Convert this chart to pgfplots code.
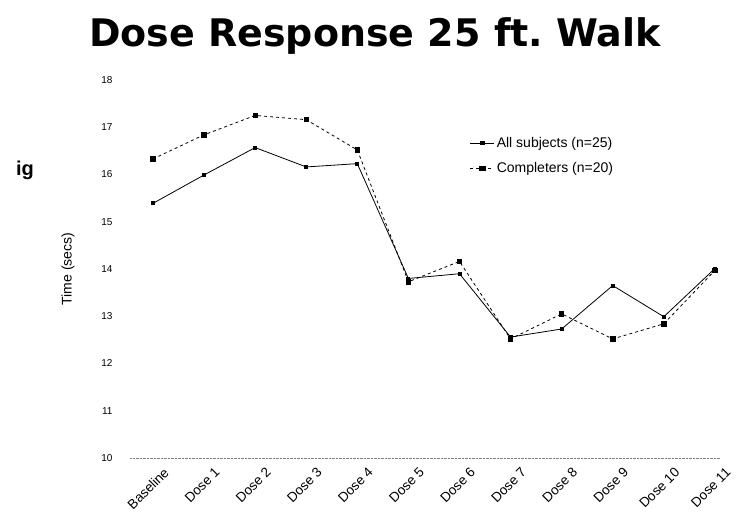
\documentclass[border=0pt]{standalone}
\usepackage{fontspec}
\setmainfont{Liberation Sans}
\newfontfamily\titlefont{DejaVu Sans}
\usepackage{pgfplots}
\pgfplotsset{compat=1.18}
\begin{document}
\begin{tikzpicture}
\useasboundingbox (0pt,0pt) rectangle (740pt,531pt);
\node[font=\titlefont\fontsize{38}{42}\selectfont\bfseries] at (375pt,495pt) {Dose Response 25 ft.\ Walk};
\node[font=\fontsize{20}{22}\selectfont\bfseries] at (25pt,361pt) {ig};
\begin{axis}[
  at={(130pt,73pt)}, anchor=south west,
  scale only axis, width=590pt, height=378pt,
  xmin=-0.45, xmax=11.1, ymin=10, ymax=18,
  axis y line*=left,
  y axis line style={draw=none},
  axis x line*=bottom,
  x axis line style={densely dotted, gray, -},
  xtick={0,...,11},
  xticklabels={Baseline,Dose 1,Dose 2,Dose 3,Dose 4,Dose 5,Dose 6,Dose 7,Dose 8,Dose 9,Dose 10,Dose 11},
  xtick style={draw=none},
  xticklabel style={rotate=45, anchor=north east, font=\fontsize{13.5}{16}\selectfont, inner sep=1pt, yshift=-12pt, xshift=2pt},
  ytick={10,...,18},
  ytick style={draw=none},
  yticklabel style={anchor=east, xshift=-14pt, font=\fontsize{10}{12}\selectfont},
  /pgf/number format/assume math mode=true,
  ylabel={Time (secs)},
  ylabel style={at={(axis description cs:-0.105,0.50)}, anchor=center, rotate=0, font=\fontsize{14}{16}\selectfont},
  clip=false,
  legend style={at={(0.571,0.86)}, anchor=north west, draw=none, fill=none,
    font=\fontsize{14}{16}\selectfont, row sep=10pt},
  legend cell align=left,
  legend image post style={xscale=1.4},
]
\addplot[black, thick, mark=square*, mark size=1.5pt] coordinates {
(0,15.39) (1,15.99) (2,16.57) (3,16.16) (4,16.23) (5,13.80)
(6,13.90) (7,12.56) (8,12.73) (9,13.65) (10,12.99) (11,14.01)};
\addlegendentry{All subjects (n=25)}
\addplot[black, thick, dashed, mark=square*, mark size=2.2pt, mark options={solid}] coordinates {
(0,16.33) (1,16.84) (2,17.25) (3,17.16) (4,16.52) (5,13.73)
(6,14.16) (7,12.52) (8,13.05) (9,12.52) (10,12.84) (11,13.97)};
\addlegendentry{Completers (n=20)}
\end{axis}
\end{tikzpicture}
\end{document}
